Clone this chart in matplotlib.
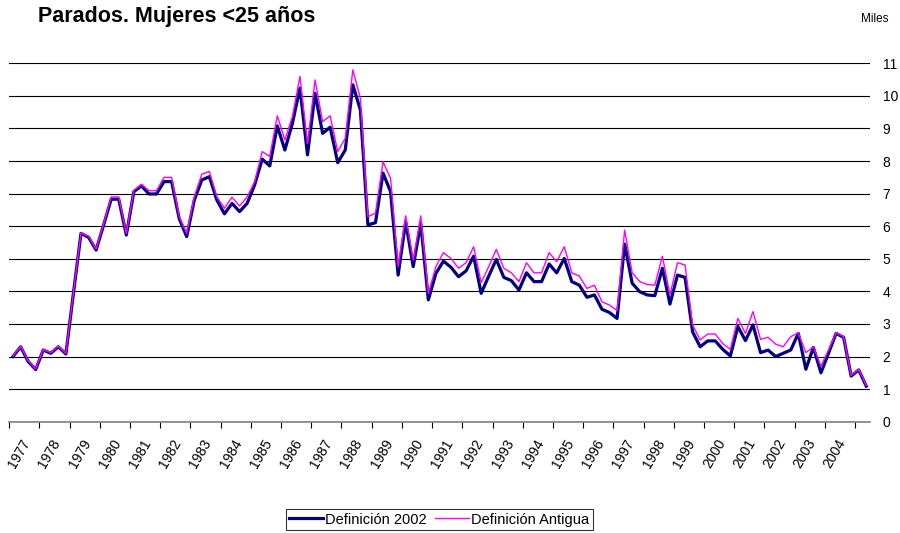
import matplotlib
matplotlib.use("Agg")
import matplotlib.pyplot as plt
import matplotlib.transforms as mtransforms
import numpy as np

plt.rcParams['font.family'] = ['Liberation Sans', 'DejaVu Sans']

# Quarterly series, 1977 Q1 onwards (thousands)
def_2002 = [
    2.00, 2.30, 1.85, 1.60, 2.20, 2.10, 2.30, 2.08,
    3.95, 5.78, 5.66, 5.27, 6.04, 6.83, 6.83, 5.73,
    7.06, 7.24, 6.99, 6.99, 7.37, 7.37, 6.24, 5.68,
    6.80, 7.42, 7.52, 6.80, 6.38, 6.70, 6.45, 6.70,
    7.27, 8.06, 7.85, 9.08, 8.34, 9.16, 10.24, 8.19,
    10.08, 8.85, 9.04, 7.95, 8.34, 10.34, 9.57, 6.04,
    6.11, 7.63, 7.06, 4.50, 6.14, 4.76, 6.09, 3.74,
    4.55, 4.93, 4.74, 4.45, 4.63, 5.08, 3.94, 4.47,
    4.98, 4.43, 4.33, 4.04, 4.57, 4.30, 4.30, 4.84,
    4.57, 5.01, 4.30, 4.19, 3.82, 3.89, 3.45, 3.35,
    3.17, 5.45, 4.25, 3.99, 3.89, 3.87, 4.71, 3.61,
    4.50, 4.43, 2.76, 2.30, 2.48, 2.48, 2.22, 2.02,
    2.92, 2.49, 2.97, 2.12, 2.20, 2.00, 2.10, 2.20,
    2.71, 1.61, 2.28, 1.50, 2.10, 2.71, 2.59, 1.40,
    1.59, 1.09,
]

def_antigua = [
    2.02, 2.32, 1.87, 1.62, 2.22, 2.12, 2.32, 2.10,
    3.98, 5.80, 5.69, 5.30, 6.08, 6.90, 6.90, 5.78,
    7.10, 7.29, 7.09, 7.09, 7.50, 7.50, 6.30, 5.78,
    6.90, 7.60, 7.68, 6.90, 6.55, 6.89, 6.62, 6.90,
    7.37, 8.29, 8.14, 9.39, 8.65, 9.37, 10.60, 8.54,
    10.49, 9.21, 9.39, 8.29, 8.70, 10.80, 9.93, 6.29,
    6.40, 7.98, 7.47, 4.76, 6.32, 4.96, 6.32, 3.94,
    4.76, 5.19, 5.01, 4.71, 4.88, 5.37, 4.27, 4.76,
    5.29, 4.71, 4.57, 4.30, 4.88, 4.57, 4.57, 5.19,
    4.91, 5.37, 4.57, 4.47, 4.09, 4.19, 3.68, 3.58,
    3.41, 5.88, 4.57, 4.30, 4.21, 4.19, 5.08, 3.89,
    4.88, 4.81, 2.97, 2.51, 2.69, 2.69, 2.40, 2.22,
    3.17, 2.71, 3.38, 2.53, 2.59, 2.38, 2.30, 2.61,
    2.73, 2.12, 2.30, 1.71, 2.20, 2.73, 2.61, 1.42,
    1.61, 1.11,
]

years = [str(y) for y in range(1977, 2005)]
y_ticks = list(range(0, 12))

fig = plt.figure(figsize=(9.0, 5.33), dpi=100)
ax = fig.add_axes([0.0103, 0.2088, 0.9564, 0.6724])

x = np.arange(len(def_2002))
ax.plot(x, def_2002, color='#000080', lw=2.3, zorder=3,
        label='Definición 2002')
ax.plot(x, def_antigua, color='#FF00FF', lw=1.0, zorder=4,
        label='Definición Antigua')

ax.set_xlim(-0.5, len(def_2002) - 0.5)
ax.set_ylim(0, 11)

# horizontal gridlines, values on the right
ax.set_yticks(y_ticks)
ax.yaxis.tick_right()
ax.tick_params(axis='y', length=0, pad=9, labelsize=10)
ax.grid(axis='y', color='black', lw=0.8)
ax.set_axisbelow(True)

# category axis: tick marks every four quarters, year labels rotated
ax.set_xticks(np.arange(-0.5, len(def_2002), 4))
ax.set_xticklabels([])
ax.tick_params(axis='x', direction='out', length=4, width=0.8, color='black')

for s in ['top', 'right', 'left']:
    ax.spines[s].set_visible(False)
ax.spines['bottom'].set_color('#808080')
ax.spines['bottom'].set_linewidth(1.2)

trans = mtransforms.blended_transform_factory(ax.transData, ax.transAxes)
for k, lab in enumerate(years):
    ax.text(4 * k + 0.85, -0.09, lab, transform=trans, rotation=60,
            ha='center', va='center', fontsize=10)

fig.text(0.042, 0.958, 'Parados. Mujeres <25 años', fontsize=15.5,
         fontweight='bold', ha='left', va='baseline')
fig.text(0.987, 0.964, 'Miles', fontsize=8.5, ha='right', va='center')

leg = fig.legend(loc='center', bbox_to_anchor=(0.488, 0.0253), ncol=2,
                 fontsize=10.5, frameon=True, fancybox=False, handlelength=2.3,
                 handletextpad=0.15, columnspacing=0.6, borderpad=0.25,
                 borderaxespad=0)
leg.get_frame().set_edgecolor('black')
leg.get_frame().set_linewidth(0.8)

fig.savefig('out.png', dpi=100)
